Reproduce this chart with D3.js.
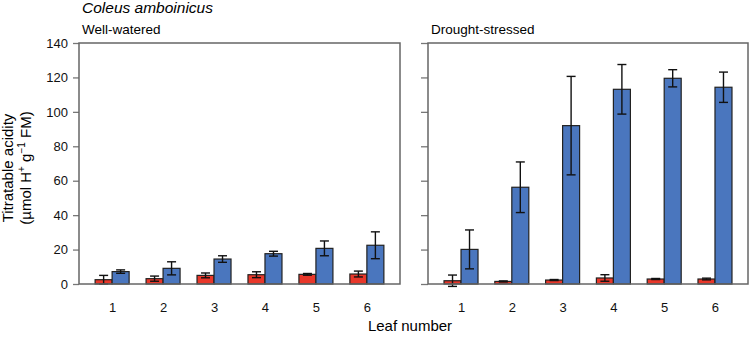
<!DOCTYPE html>
<html>
<head>
<meta charset="utf-8">
<script src="https://cdn.jsdelivr.net/npm/d3@7"></script>
<style>
  body { margin: 0; background: #fff; }
  svg { font-family: "Liberation Sans", Arial, sans-serif; }
  .frame { fill: none; stroke: #666; stroke-width: 1.5; }
  .axis line { stroke: #777; stroke-width: 1.3; }
  .axis path { display: none; }
  .axis text { font-size: 13px; fill: #111; }
  .bar { stroke: #222; stroke-width: 1.2; }
  .err { stroke: #111; stroke-width: 1.4; fill: none; }
</style>
</head>
<body>
<div id="chart"></div>
<script>
// leaf numbers on the x axis
var leaves = [1, 2, 3, 4, 5, 6];
var yTicks = [0, 20, 40, 60, 80, 100, 120, 140];

// well-watered
var wwRed = [2.5, 3.1, 5.0, 5.4, 5.6, 5.8];
var wwRedErr = [2.5, 1.5, 1.4, 1.7, 0.5, 1.7];
var wwBlue = [7.2, 9.1, 14.5, 17.6, 20.7, 22.5];
var wwBlueErr = [1.0, 3.8, 1.9, 1.4, 4.3, 7.8];

// drought-stressed
var dsRed = [1.9, 1.5, 2.3, 3.5, 2.9, 2.9];
var dsRedErr = [3.3, 0.3, 0.3, 1.9, 0.3, 0.5];
var dsBlue = [20.1, 56.2, 92, 113.1, 119.5, 114.3];
var dsBlueErr = [11.3, 14.7, 28.6, 14.4, 5.0, 8.8];

var w = 750, h = 337;
var plotTop = 43, plotBottom = 284;
var barW = 17;
var red = "#e8372a", blue = "#4a76be";

var svg = d3.select("#chart").append("svg")
  .attr("width", w)
  .attr("height", h);

var yScale = d3.scaleLinear()
  .domain([0, 140])
  .range([plotBottom, plotTop]);

svg.append("text")
  .attr("x", 82).attr("y", 13)
  .style("font-size", "15.5px")
  .style("font-style", "italic")
  .text("Coleus amboinicus");

var drawPanel = function(x0, x1, title, redVals, redErr, blueVals, blueErr, labels) {
  var xScale = d3.scalePoint()
    .domain(leaves)
    .range([x0, x1])
    .padding(0.65);

  var g = svg.append("g");

  g.append("text")
    .attr("x", x0 + 3).attr("y", 34)
    .style("font-size", "13.5px")
    .text(title);

  var yAxis = d3.axisLeft(yScale).tickValues(yTicks).tickSize(labels ? 6 : 7).tickPadding(5);
  if (!labels) yAxis.tickFormat("");
  g.append("g")
    .attr("class", "axis")
    .attr("transform", "translate(" + x0 + ",0)")
    .call(yAxis);

  var xAxis = d3.axisBottom(xScale).tickSize(0).tickPadding(19);
  g.append("g")
    .attr("class", "axis")
    .attr("transform", "translate(0," + plotBottom + ")")
    .call(xAxis);

  var series = [
    { vals: redVals, errs: redErr, color: red, off: -barW },
    { vals: blueVals, errs: blueErr, color: blue, off: 0 }
  ];

  series.forEach(function(s) {
    var data = leaves.map(function(l, i) { return { leaf: l, v: s.vals[i], e: s.errs[i] }; });

    g.selectAll(null).data(data).enter().append("rect")
      .attr("class", "bar")
      .attr("x", function(d) { return xScale(d.leaf) + s.off; })
      .attr("y", function(d) { return yScale(d.v); })
      .attr("width", barW)
      .attr("height", function(d) { return yScale(0) - yScale(d.v); })
      .attr("fill", s.color);

    var eb = g.selectAll(null).data(data).enter().append("g")
      .attr("class", "err")
      .attr("transform", function(d) { return "translate(" + (xScale(d.leaf) + s.off + barW / 2) + ",0)"; });
    eb.append("line")
      .attr("y1", function(d) { return yScale(d.v + d.e); })
      .attr("y2", function(d) { return yScale(d.v - d.e); });
    eb.append("line")
      .attr("x1", -4.5).attr("x2", 4.5)
      .attr("y1", function(d) { return yScale(d.v + d.e); })
      .attr("y2", function(d) { return yScale(d.v + d.e); });
    eb.append("line")
      .attr("x1", -4.5).attr("x2", 4.5)
      .attr("y1", function(d) { return yScale(d.v - d.e); })
      .attr("y2", function(d) { return yScale(d.v - d.e); });
  });

  g.append("rect")
    .attr("class", "frame")
    .attr("x", x0).attr("y", plotTop)
    .attr("width", x1 - x0).attr("height", plotBottom - plotTop);
};

drawPanel(79, 400, "Well-watered", wwRed, wwRedErr, wwBlue, wwBlueErr, true);
drawPanel(428, 748, "Drought-stressed", dsRed, dsRedErr, dsBlue, dsBlueErr, false);

// axis titles
svg.append("text")
  .attr("transform", "translate(13,168) rotate(-90)")
  .attr("text-anchor", "middle")
  .style("font-size", "15px")
  .text("Titratable acidity");

var t2 = svg.append("text")
  .attr("transform", "translate(31,168) rotate(-90)")
  .attr("text-anchor", "middle")
  .style("font-size", "15px");
t2.append("tspan").text("(\u00b5mol H");
t2.append("tspan").attr("dy", -6).style("font-size", "10px").text("+");
t2.append("tspan").attr("dy", 6).text(" g");
t2.append("tspan").attr("dy", -6).style("font-size", "10px").text("\u22121");
t2.append("tspan").attr("dy", 6).text(" FM)");

svg.append("text")
  .attr("x", 410).attr("y", 331)
  .attr("text-anchor", "middle")
  .style("font-size", "15px")
  .text("Leaf number");
</script>
</body>
</html>
